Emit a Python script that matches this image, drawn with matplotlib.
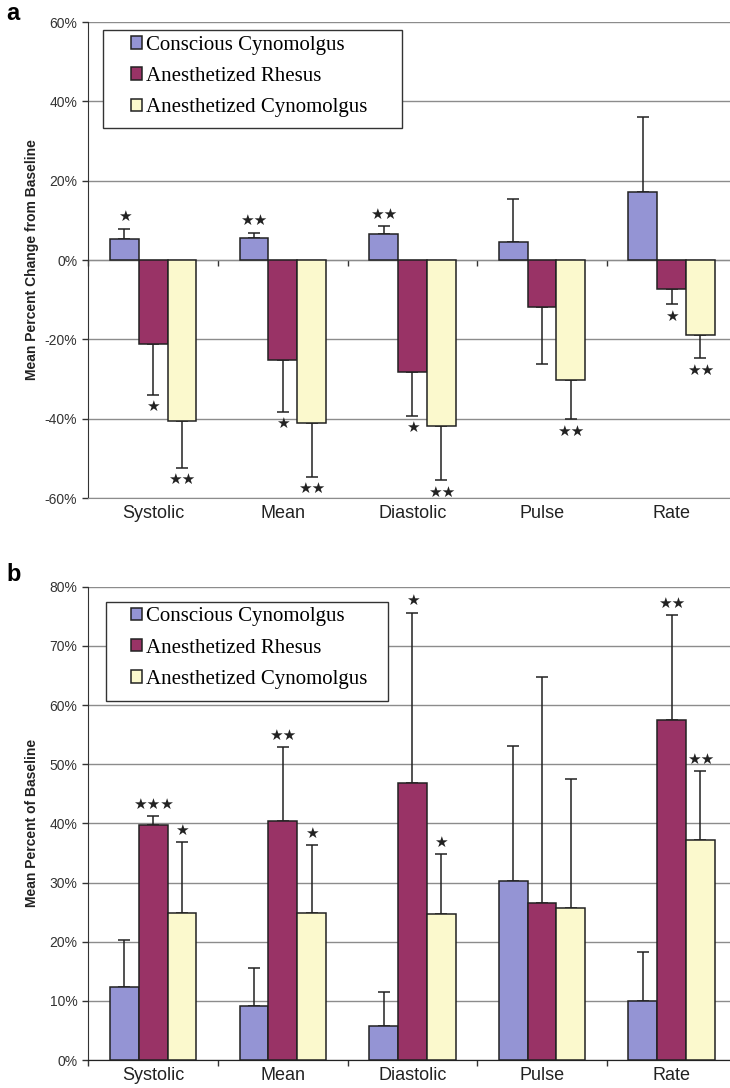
import numpy as np
import matplotlib
matplotlib.use("Agg")
import matplotlib.pyplot as plt
from matplotlib.patches import Rectangle

# categories and groups
categories = ["Systolic", "Mean", "Diastolic", "Pulse", "Rate"]
groups = ["Conscious Cynomolgus", "Anesthetized Rhesus", "Anesthetized Cynomolgus"]
colors = ["#9494d4", "#993366", "#fbf9cd"]

# panel a: mean percent change from baseline (%), with SD
a_conscious = [5.4, 5.5, 6.6, 4.5, 17.2]
a_conscious_sd = [2.5, 1.4, 2.0, 10.8, 18.9]
a_rhesus = [-21.3, -25.3, -28.2, -11.8, -7.4]
a_rhesus_sd = [12.7, 13.0, 11.1, 14.5, 3.8]
a_anes_cyno = [-40.7, -41.1, -41.8, -30.3, -18.9]
a_anes_cyno_sd = [11.7, 13.6, 13.7, 9.9, 5.9]
a_stars = [
    ["\u2605", "\u2605\u2605", "\u2605\u2605", "", ""],
    ["\u2605", "\u2605", "\u2605", "", "\u2605"],
    ["\u2605\u2605", "\u2605\u2605", "\u2605\u2605", "\u2605\u2605", "\u2605\u2605"],
]

# panel b: mean percent of baseline (%), with SD
b_conscious = [12.3, 9.1, 5.8, 30.3, 9.9]
b_conscious_sd = [8.0, 6.5, 5.7, 22.8, 8.3]
b_rhesus = [39.7, 40.4, 46.8, 26.6, 57.4]
b_rhesus_sd = [1.5, 12.5, 28.8, 38.2, 17.8]
b_anes_cyno = [24.8, 24.8, 24.7, 25.7, 37.2]
b_anes_cyno_sd = [12.0, 11.5, 10.1, 21.8, 11.6]
b_stars = [
    ["", "", "", "", ""],
    ["\u2605\u2605\u2605", "\u2605\u2605", "\u2605", "", "\u2605\u2605"],
    ["\u2605", "\u2605", "\u2605", "", "\u2605\u2605"],
]

plt.rcParams["font.family"] = ["Liberation Sans", "DejaVu Sans"]

W, H = 730, 1088
fig = plt.figure(figsize=(W / 100, H / 100), dpi=100)
ax_a = fig.add_axes([88.4 / W, 1 - 498 / H, 648 / W, 476 / H])
ax_b = fig.add_axes([88.4 / W, 1 - 1060 / H, 648 / W, 473.3 / H])


def draw_panel(ax, series, sds, stars, ylim, ystep, ylabel, bottom_color,
               box, anchor):
    x = np.arange(len(categories))
    width = 0.222
    bars = []
    for i, (vals, sd) in enumerate(zip(series, sds)):
        vals = np.array(vals)
        sd = np.array(sd)
        xi = x + (i - 1) * width
        b = ax.bar(xi, vals, width, color=colors[i], edgecolor="#222222",
                   linewidth=1.1, zorder=3, label=groups[i])
        bars.append(b)
        lower = np.where(vals < 0, sd, 0)
        upper = np.where(vals >= 0, sd, 0)
        ax.errorbar(xi, vals, yerr=[lower, upper], fmt="none", ecolor="#222222",
                    elinewidth=1.1, capsize=4.5, capthick=1.1, zorder=2.5)
        for j, s in enumerate(stars[i]):
            if not s:
                continue
            sign = 1 if vals[j] >= 0 else -1
            ax.annotate(s, (xi[j], vals[j] + sign * sd[j]),
                        xytext=(0, 8.5 * sign), textcoords="offset points",
                        ha="center", va="center", fontsize=11,
                        family="DejaVu Sans", color="#222222", zorder=4)

    ax.set_xlim(-0.5, len(categories) - 0.5)
    ax.set_ylim(*ylim)
    ax.set_yticks(np.arange(ylim[0], ylim[1] + 1, ystep))
    ax.yaxis.set_major_formatter(plt.FuncFormatter(lambda v, p: "{:.0f}%".format(v)))
    ax.tick_params(axis="y", direction="out", length=4, width=1, pad=4,
                   labelsize=10, colors="#333333")
    ax.set_xticks(x)
    ax.set_xticklabels(categories, fontsize=13, color="#222222")
    ax.tick_params(axis="x", length=0, pad=5)
    ax.yaxis.grid(True, color="#8c8c8c", linewidth=1.0)
    ax.set_axisbelow(True)
    for side in ["top", "right"]:
        ax.spines[side].set_visible(False)
    ax.spines["left"].set_color("#333333")
    ax.spines["bottom"].set_color(bottom_color)

    # zero line with ticks between the groups
    sec = ax.secondary_xaxis(0, transform=ax.transData)
    sec.set_xticks(np.arange(len(categories) + 1) - 0.5)
    sec.set_xticklabels([])
    sec.tick_params(direction="out", length=4, width=1, color="#333333")
    sec.spines["bottom"].set_color("#222222")

    ax.set_ylabel(ylabel, fontsize=10, fontweight="bold", color="#222222")
    ax.yaxis.set_label_coords(-0.076, 0.5)

    ax.add_patch(Rectangle((box[0], box[1]), box[2] - box[0], box[3] - box[1],
                           transform=ax.transAxes, facecolor="white",
                           edgecolor="#333333", linewidth=1.0, zorder=4))
    ax.legend(handles=bars, loc="upper left", bbox_to_anchor=anchor,
              frameon=False, borderaxespad=0, borderpad=0,
              handlelength=0.55, handleheight=0.55, handletextpad=0.2,
              labelspacing=0.59,
              prop={"family": "Liberation Serif", "size": 15})


draw_panel(ax_a,
           [a_conscious, a_rhesus, a_anes_cyno],
           [a_conscious_sd, a_rhesus_sd, a_anes_cyno_sd],
           a_stars, (-60, 60), 20, "Mean Percent Change from Baseline",
           "#8c8c8c", (0.0225, 0.777, 0.484, 0.983), (0.0653, 0.971))

draw_panel(ax_b,
           [b_conscious, b_rhesus, b_anes_cyno],
           [b_conscious_sd, b_rhesus_sd, b_anes_cyno_sd],
           b_stars, (0, 80), 10, "Mean Percent of Baseline",
           "#222222", (0.027, 0.759, 0.463, 0.967), (0.0653, 0.9565))

fig.text(6 / W, 1 - 20 / H, "a", fontsize=17, fontweight="bold", va="baseline")
fig.text(6 / W, 1 - 581 / H, "b", fontsize=17, fontweight="bold", va="baseline")

fig.savefig("out.png", dpi=100)
